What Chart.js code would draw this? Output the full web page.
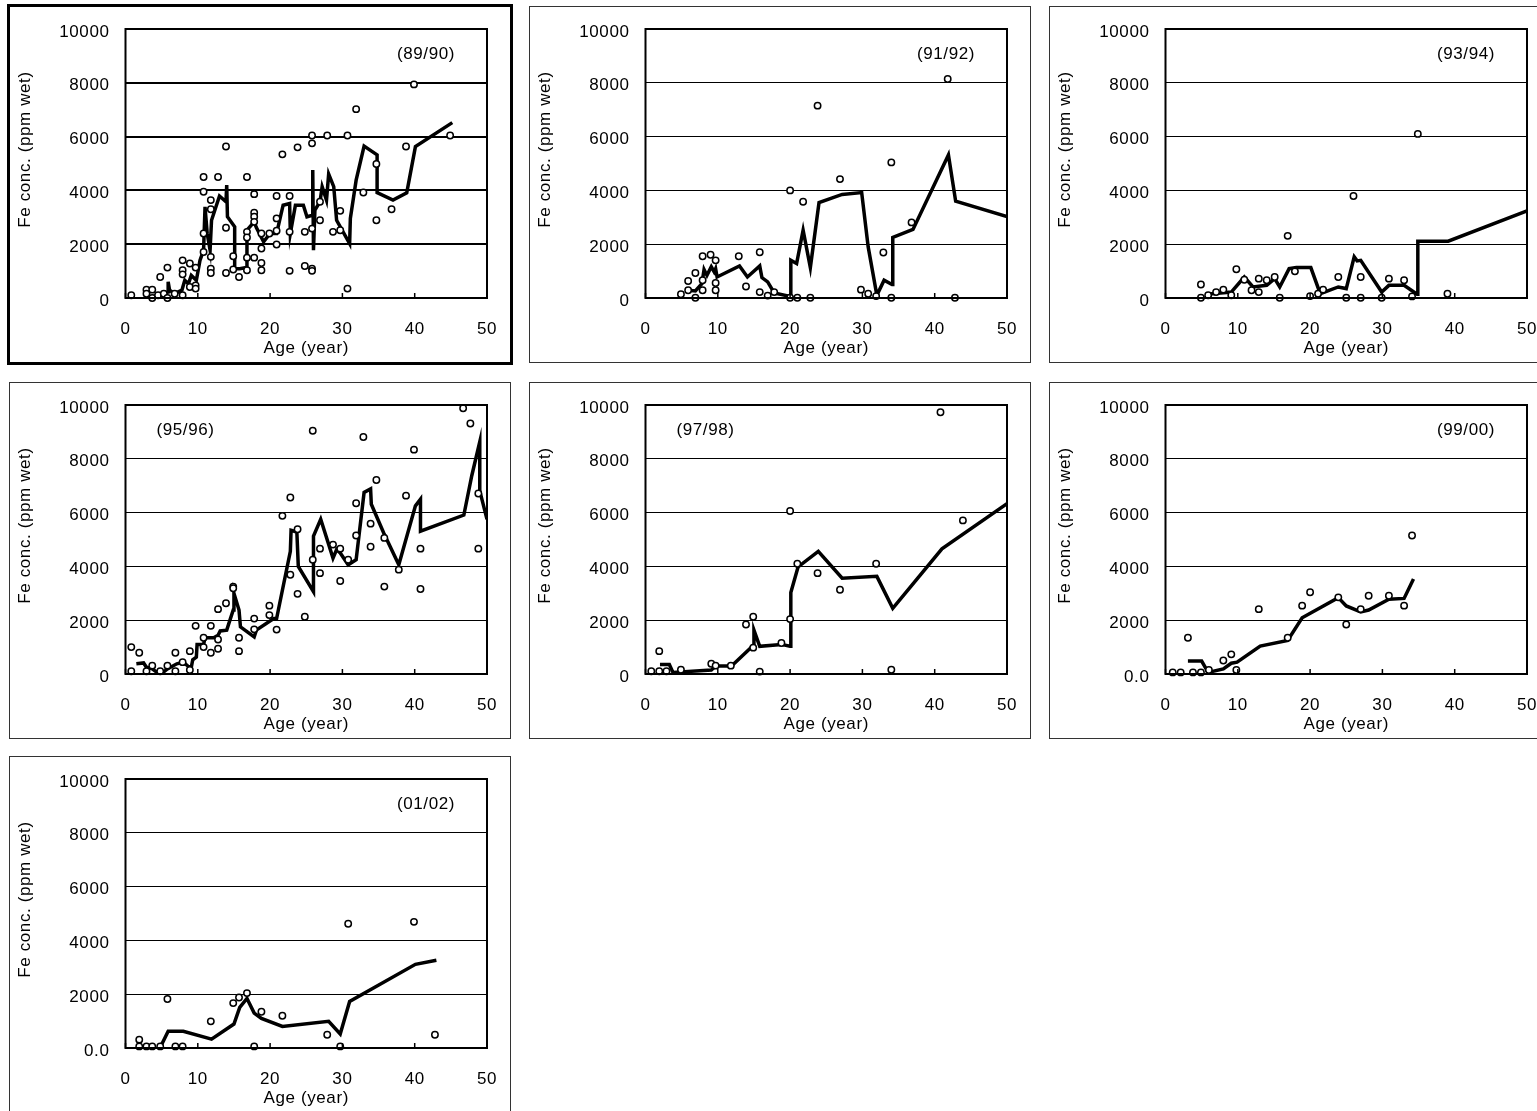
<!DOCTYPE html>
<html>
<head>
<meta charset="utf-8">
<script src="https://cdn.jsdelivr.net/npm/chart.js@4.4.1/dist/chart.umd.min.js"></script>
<style>
    html, body {
        margin: 0;
        padding: 0;
        background: #fff;
        width: 1537px;
        height: 1111px;
        overflow: hidden;
    }
    .panel {
        position: absolute;
        width: 500px;
        height: 355px;
        border: 1px solid #333;
        background: #fff;
    }
    .panel.active {
        border: 3px solid #000;
    }
    .panel canvas {
        display: block;
    }
</style>
</head>
<body>
<div class="panel active" style="left:7px;top:4px"><canvas id="c8990" width="500" height="355"></canvas></div>
<div class="panel" style="left:529px;top:6px"><canvas id="c9192" width="500" height="355"></canvas></div>
<div class="panel" style="left:1049px;top:6px"><canvas id="c9394" width="500" height="355"></canvas></div>
<div class="panel" style="left:9px;top:382px"><canvas id="c9596" width="500" height="355"></canvas></div>
<div class="panel" style="left:529px;top:382px"><canvas id="c9798" width="500" height="355"></canvas></div>
<div class="panel" style="left:1049px;top:382px"><canvas id="c9900" width="500" height="355"></canvas></div>
<div class="panel" style="left:9px;top:756px"><canvas id="c0102" width="500" height="355"></canvas></div>
<script>
// season labels and the bottom tick text used in each panel
const seasons = ["(89/90)", "(91/92)", "(93/94)", "(95/96)", "(97/98)", "(99/00)", "(01/02)"];
const zeroLabels = ["0", "0", "0", "0", "0", "0.0", "0.0"];
const ageTicks = [0, 10, 20, 30, 40, 50];
const feTicks = [0, 2000, 4000, 6000, 8000, 10000];

// 89/90
const age8990 = [0.8, 2.9, 2.9, 3.7, 3.7, 4.5, 4.8, 5.3, 5.8, 5.8, 6.8, 7.9, 7.9, 7.9, 7.9, 8.9, 8.9, 9.7, 9.7, 9.7,
    10.8, 10.8, 10.8, 10.8, 11.8, 11.8, 11.8, 11.8, 11.8, 12.8, 13.9, 13.9, 13.9, 14.9, 14.9, 15.7,
    16.8, 16.8, 16.8, 16.8, 16.8, 17.8, 17.8, 17.8, 17.8, 17.8, 18.8, 18.8, 18.8, 18.8, 19.9,
    20.9, 20.9, 20.9, 20.9, 21.7, 22.7, 22.7, 22.7, 23.8, 24.8, 24.8, 25.8, 25.8, 25.8, 25.8, 25.8,
    26.9, 26.9, 27.9, 28.7, 29.7, 29.7, 30.7, 30.7, 31.9, 32.9, 34.7, 34.7, 36.8, 38.8, 39.9, 44.9];
const fe8990 = [100, 310, 160, 310, 0, 100, 780, 160, 1130, 0, 160, 1400, 1030, 880, 100, 1280, 410, 1130, 470, 350,
    4500, 3950, 2400, 1710, 3640, 3300, 1530, 1090, 930, 4500, 5630, 2610, 930, 1550, 1060, 780,
    4500, 2460, 2250, 1500, 1030, 3860, 3170, 3020, 2830, 1500, 2400, 1840, 1300, 1030, 2400,
    3790, 2960, 2500, 1990, 5340, 3790, 2460, 1010, 5600, 2460, 1190, 6040, 5750, 2580, 1090, 1010,
    2890, 3580, 6040, 2460, 3240, 2520, 6040, 350, 7020, 3920, 4980, 2890, 3300, 5630, 7940, 6040];
const trendAge8990 = [2.9, 3.8, 4.8, 5.9, 5.9, 6.1, 6.8, 7.8, 8.2, 8.7, 9.1, 9.8, 10.3, 10.8, 11.0, 11.3, 11.7, 11.9,
    13.0, 13.9, 14.0, 14.1, 15.1, 15.1, 15.8, 16.7, 16.8, 17.8, 18.1, 19.1, 20.0, 20.9, 21.8, 22.7, 22.8,
    23.5, 24.6, 25.1, 25.9, 25.9, 26.0, 26.2, 26.9, 27.2, 27.8, 28.1, 28.8, 29.2, 31.0, 31.1, 31.9, 33.0,
    34.8, 34.8, 37.0, 38.9, 40.1, 45.2];
const trendFe8990 = [40, 40, 160, 220, 600, 290, 160, 290, 660, 530, 840, 660, 1400, 1780, 3390, 2400, 1780, 2890,
    3790, 3580, 4200, 3020, 2650, 1090, 1090, 1130, 2520, 2830, 2620, 2090, 2400, 2400, 3450, 3510, 2400,
    3450, 3450, 3020, 3080, 4760, 1780, 3270, 3580, 4140, 3640, 4610, 4140, 2890, 2020, 2960, 4380, 5650,
    5320, 3920, 3640, 3910, 5630, 6520];

// 91/92
const age9192 = [4.9, 5.9, 5.9, 6.9, 6.9, 7.9, 7.9, 7.9, 9.0, 9.7, 9.7, 9.7, 12.9, 13.9, 15.8, 15.8, 16.9, 17.8,
    20.0, 20.0, 21.0, 21.8, 22.8, 23.8, 26.9, 29.8, 30.8, 31.9, 32.9, 34.0, 34.0, 36.8, 41.8, 42.8];
const fe9192 = [140, 630, 290, 930, 10, 1550, 660, 290, 1610, 1400, 560, 290, 1550, 430, 1700, 220, 90, 220,
    4000, 10, 10, 3580, 10, 7150, 4420, 310, 160, 70, 1690, 5040, 10, 2810, 8140, 10];
const trendAge9192 = [5.9, 6.9, 7.8, 8.1, 8.5, 9.1, 9.5, 9.7, 9.9, 13.0, 14.1, 15.8, 16.1, 16.9, 17.8, 20.0, 20.1,
    20.9, 21.8, 22.8, 24.0, 27.2, 29.9, 30.8, 32.0, 33.0, 34.1, 34.2, 37.0, 41.9, 42.9, 50];
const trendFe9192 = [290, 260, 530, 1060, 840, 1160, 970, 1090, 780, 1190, 780, 1190, 760, 600, 190, 60, 1400,
    1280, 2520, 1130, 3550, 3850, 3920, 1900, 100, 660, 500, 2250, 2550, 5320, 3600, 3030];

// 93/94
const age9394 = [4.9, 4.9, 5.9, 7.0, 8.0, 9.1, 9.8, 10.9, 11.9, 12.9, 12.9, 14.0, 15.1, 15.8, 16.9, 17.9, 20.0,
    21.1, 21.8, 23.9, 25.0, 26.0, 27.0, 27.0, 29.9, 30.9, 33.0, 34.1, 34.9, 39.0];
const fe9394 = [500, 10, 100, 220, 310, 100, 1070, 680, 290, 720, 220, 660, 780, 10, 2310, 990, 70,
    160, 310, 780, 10, 3790, 780, 10, 10, 720, 660, 60, 6100, 160];
const trendAge9394 = [5.7, 9.1, 10.9, 12.1, 14.0, 15.1, 15.8, 17.1, 18.1, 20.1, 21.4, 23.9, 25.0, 26.1, 26.5, 27.0,
    29.9, 30.9, 33.0, 34.8, 34.9, 39.1, 50];
const trendFe9394 = [140, 220, 780, 410, 470, 720, 410, 1090, 1130, 1130, 160, 410, 350, 1530, 1380, 1400,
    220, 470, 470, 140, 2110, 2110, 3240];

// 95/96
const age9596 = [0.8, 0.8, 1.9, 2.9, 3.7, 4.8, 5.8, 6.9, 6.9, 7.9, 8.9, 8.9, 9.7, 10.8, 10.8, 11.8, 11.8, 12.8, 12.8,
    12.8, 13.9, 14.9, 14.9, 15.7, 15.7, 17.8, 17.8, 19.9, 19.9, 20.9, 21.7, 22.8, 22.8, 23.8, 23.8, 24.8,
    25.9, 25.9, 26.9, 26.9, 28.7, 29.7, 29.7, 30.8, 31.9, 31.9, 32.9, 33.9, 33.9, 34.7, 35.8, 35.8, 37.8,
    38.8, 39.9, 40.8, 40.8, 46.7, 47.7, 48.8, 48.8];
const fe9596 = [1000, 100, 790, 100, 310, 100, 310, 790, 100, 440, 850, 150, 1790, 1350, 1000, 1790, 790, 2410, 1280,
    940, 2630, 3250, 3190, 1350, 850, 2060, 1660, 2540, 2190, 1650, 5880, 6560, 3690, 5380, 2980, 2130,
    9040, 4250, 4660, 3750, 4810, 4660, 3460, 4250, 5150, 6350, 8810, 5590, 4730, 7210, 3250, 5060, 3880,
    6630, 8340, 4660, 3160, 9880, 9310, 6710, 4660];
const trendAge9596 = [1.5, 2.5, 2.9, 3.7, 4.5, 5.2, 5.8, 7.1, 8.0, 8.7, 9.1, 9.3, 9.8, 9.9, 10.8, 11.0, 12.2, 12.8,
    13.1, 14.0, 14.9, 15.0, 15.7, 15.9, 17.8, 18.1, 20.5, 20.9, 22.8, 22.9, 23.7, 23.9, 26.0, 26.0, 27.0,
    28.7, 29.2, 29.7, 30.8, 31.9, 33.0, 33.9, 34.0, 35.7, 37.8, 40.1, 40.8, 40.8, 46.8, 47.9, 49.0, 49.0, 50];
const trendFe9596 = [380, 410, 250, 190, 30, 60, 190, 380, 440, 280, 250, 530, 630, 1100, 1100, 1350, 1350, 1440,
    1600, 1630, 2380, 3000, 2380, 1750, 1380, 1630, 2060, 2060, 4560, 5340, 5280, 4000, 3060, 5130, 5750,
    4310, 4630, 4500, 4060, 4250, 6750, 6880, 6310, 5250, 4060, 6250, 6500, 5310, 5910, 7380, 8630, 6810, 5750];

// 97/98
const age9798 = [0.8, 1.9, 1.9, 2.9, 4.9, 9.1, 9.7, 11.8, 13.9, 14.9, 14.9, 15.8, 18.8, 20.0, 20.0, 21.0, 23.8,
    26.9, 31.9, 34.0, 40.8, 43.9];
const fe9798 = [100, 100, 850, 100, 160, 380, 310, 310, 1840, 2130, 980, 90, 1150, 2040, 6060, 4100, 3750,
    3130, 4100, 160, 9730, 5710];
const trendAge9798 = [2.0, 3.3, 3.8, 9.1, 9.7, 11.9, 14.9, 15.0, 15.8, 18.8, 20.0, 20.1, 21.1, 23.9, 27.2, 32.0,
    34.2, 41.0, 50];
const trendFe9798 = [350, 350, 60, 150, 300, 300, 1060, 1630, 1030, 1100, 1030, 3030, 3980, 4560, 3560, 3630,
    2440, 4650, 6330];

// 99/00
const age9900 = [1.0, 2.1, 3.1, 3.8, 4.9, 6.0, 8.0, 9.1, 9.8, 12.9, 16.9, 18.9, 20.0, 23.9, 25.0, 27.0, 28.1,
    30.9, 33.0, 34.1];
const fe9900 = [60, 60, 1350, 60, 60, 150, 500, 730, 150, 2410, 1350, 2540, 3040, 2850, 1840, 2410, 2910,
    2910, 2540, 5150];
const trendAge9900 = [3.1, 5.0, 5.9, 8.0, 9.1, 9.9, 13.1, 16.9, 18.9, 23.9, 25.0, 27.0, 28.1, 30.9, 33.0, 34.3];
const trendFe9900 = [480, 480, 60, 190, 400, 440, 1040, 1250, 2090, 2840, 2530, 2310, 2380, 2780, 2810, 3530];

// 01/02
const age0102 = [1.9, 1.9, 2.9, 3.7, 4.8, 5.8, 6.9, 7.9, 11.8, 14.9, 15.7, 16.8, 17.8, 18.8, 21.7, 27.9, 29.7,
    30.8, 39.9, 42.8];
const fe0102 = [310, 60, 60, 60, 60, 1820, 60, 60, 990, 1670, 1880, 2040, 60, 1350, 1200, 490, 60,
    4620, 4690, 490];
const trendAge0102 = [4.8, 5.9, 8.0, 11.9, 15.0, 15.8, 16.8, 17.8, 18.8, 21.7, 28.1, 29.7, 31.0, 40.1, 43.0];
const trendFe0102 = [20, 620, 620, 330, 890, 1510, 1840, 1300, 1100, 800, 990, 520, 1730, 3110, 3260];

const canvasIds = ["c8990", "c9192", "c9394", "c9596", "c9798", "c9900", "c0102"];
const observedAges = [age8990, age9192, age9394, age9596, age9798, age9900, age0102];
const observedFe = [fe8990, fe9192, fe9394, fe9596, fe9798, fe9900, fe0102];
const trendAges = [trendAge8990, trendAge9192, trendAge9394, trendAge9596, trendAge9798, trendAge9900, trendAge0102];
const trendFes = [trendFe8990, trendFe9192, trendFe9394, trendFe9596, trendFe9798, trendFe9900, trendFe0102];
// label sits on the left for 95/96 and 97/98
const labelLeft = [false, false, false, true, true, false, false];

const FONT = "'Liberation Sans', Arial, sans-serif";

function toPoints(xs, ys) {
    return xs.map((x, i) => ({ x: x, y: ys[i] }));
}

// frame round the plot, inner tick marks, y title and the season label
const panelDecor = {
    id: "panelDecor",
    beforeDraw(chart) {
        chart.ctx.letterSpacing = "0.6px";
    },
    afterDraw(chart, args, opts) {
        const { ctx, chartArea: a, scales } = chart;
        ctx.save();
        ctx.strokeStyle = "#000";
        ctx.lineWidth = 1.5;
        scales.x.ticks.forEach((t) => {
            const px = scales.x.getPixelForValue(t.value);
            ctx.beginPath();
            ctx.moveTo(px, a.bottom);
            ctx.lineTo(px, a.bottom - 5);
            ctx.stroke();
        });
        ctx.lineWidth = 2;
        ctx.strokeRect(a.left, a.top, a.right - a.left, a.bottom - a.top);

        ctx.fillStyle = "#000";
        ctx.font = "17px " + FONT;
        ctx.textAlign = "center";
        ctx.textBaseline = "middle";
        const lx = opts.left ? a.left + 60 : a.right - 61;
        ctx.fillText(opts.label, lx, a.top + 25);

        ctx.translate(15, (a.top + a.bottom) / 2 - 14);
        ctx.rotate(-Math.PI / 2);
        ctx.fillText("Fe conc. (ppm wet)", 0, 0);
        ctx.restore();
    },
};

function createPanel(i) {
    const canvas = document.getElementById(canvasIds[i]);
    const font = { family: FONT, size: 17 };

    new Chart(canvas.getContext("2d"), {
        type: "scatter",
        data: {
            datasets: [
                {
                    data: toPoints(observedAges[i], observedFe[i]),
                    showLine: false,
                    pointRadius: 3.2,
                    pointBorderWidth: 1.5,
                    pointBorderColor: "#000",
                    pointBackgroundColor: "#fff",
                    order: 0,
                    clip: false,
                },
                {
                    data: toPoints(trendAges[i], trendFes[i]),
                    showLine: true,
                    borderColor: "#000",
                    borderWidth: 3.5,
                    tension: 0,
                    pointRadius: 0,
                    order: 1,
                },
            ],
        },
        options: {
            responsive: false,
            animation: false,
            events: [],
            layout: {
                padding: { top: 22, right: 23, left: 0, bottom: 0 },
            },
            plugins: {
                legend: { display: false },
                tooltip: { enabled: false },
                panelDecor: { label: seasons[i], left: labelLeft[i] },
            },
            scales: {
                x: {
                    type: "linear",
                    min: ageTicks[0],
                    max: ageTicks[ageTicks.length - 1],
                    afterBuildTicks: (s) => {
                        s.ticks = ageTicks.map((v) => ({ value: v }));
                    },
                    ticks: { color: "#000", font: font, padding: 21 },
                    grid: { display: false, drawTicks: false },
                    border: { display: false },
                    title: {
                        display: true,
                        text: "Age (year)",
                        color: "#000",
                        font: font,
                        padding: { top: 0, bottom: 3 },
                    },
                    afterFit: (s) => {
                        s.height = 64;
                        s.paddingLeft = 0;
                        s.paddingRight = 0;
                    },
                },
                y: {
                    min: feTicks[0],
                    max: feTicks[feTicks.length - 1],
                    afterBuildTicks: (s) => {
                        s.ticks = feTicks.map((v) => ({ value: v }));
                    },
                    ticks: {
                        color: "#000",
                        font: font,
                        padding: 16,
                        labelOffset: 3,
                        callback: (v) => (v === 0 ? zeroLabels[i] : String(v)),
                    },
                    grid: {
                        color: "#000",
                        lineWidth: i === 0 ? 2 : 1,
                        drawTicks: false,
                    },
                    border: { display: false },
                    afterFit: (s) => {
                        s.width = 115.5;
                        s.paddingTop = 0;
                        s.paddingBottom = 0;
                    },
                },
            },
        },
        plugins: [panelDecor],
    });
}

canvasIds.forEach((id, i) => createPanel(i));
</script>
</body>
</html>
